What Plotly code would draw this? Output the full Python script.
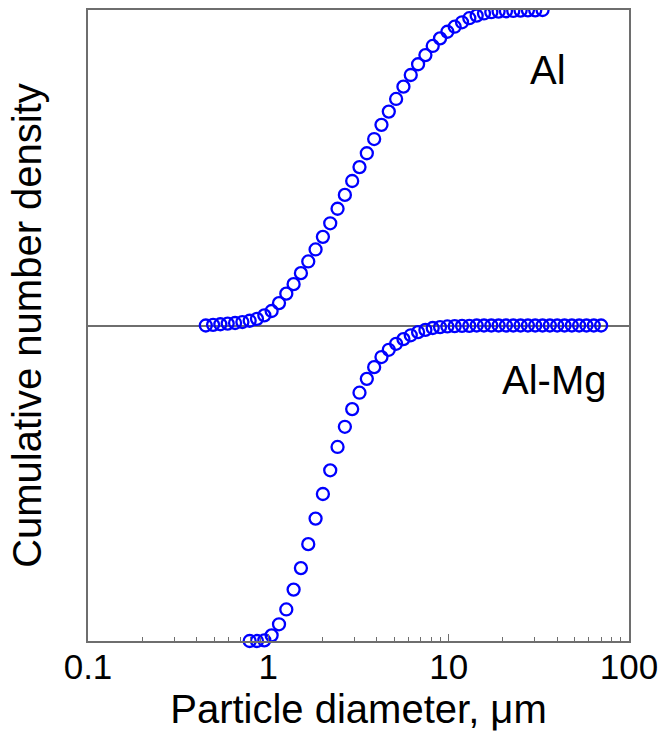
import plotly.graph_objects as go

# ---- data ----
al_diameter = [0.450, 0.494, 0.542, 0.595, 0.654, 0.718, 0.788, 0.865, 0.950, 1.043,
               1.146, 1.258, 1.381, 1.516, 1.665, 1.828, 2.007, 2.204, 2.420, 2.657,
               2.917, 3.203, 3.517, 3.862, 4.240, 4.656, 5.112, 5.613, 6.163, 6.767,
               7.430, 8.158, 8.958, 9.835, 10.80, 11.86, 13.02, 14.30, 15.70, 17.24,
               18.92, 20.78, 22.82, 25.05, 27.51, 30.20, 33.16]
al_cum = [0.000, 0.002, 0.004, 0.006, 0.008, 0.011, 0.015, 0.021, 0.032, 0.046,
          0.071, 0.101, 0.131, 0.166, 0.203, 0.241, 0.281, 0.324, 0.370, 0.414,
          0.458, 0.502, 0.546, 0.591, 0.636, 0.678, 0.718, 0.757, 0.794, 0.828,
          0.857, 0.886, 0.910, 0.931, 0.947, 0.961, 0.974, 0.982, 0.989, 0.993,
          0.995, 0.996, 0.997, 0.998, 0.999, 0.999, 1.000]

almg_diameter = [0.788, 0.865, 0.950, 1.043, 1.146, 1.258, 1.381, 1.516, 1.665, 1.828,
                 2.007, 2.204, 2.420, 2.657, 2.917, 3.203, 3.517, 3.862, 4.240, 4.656,
                 5.112, 5.613, 6.163, 6.767, 7.430, 8.158, 8.958, 9.835, 10.80, 11.86,
                 13.02, 14.30, 15.70, 17.24, 18.92, 20.78, 22.82, 25.05, 27.51, 30.20,
                 33.16, 36.41, 39.98, 43.90, 48.19, 52.92, 58.10, 63.80, 70.05]
almg_cum = [0.000, 0.000, 0.002, 0.018, 0.053, 0.100, 0.163, 0.231, 0.307, 0.388,
            0.466, 0.541, 0.615, 0.679, 0.735, 0.787, 0.831, 0.868, 0.900, 0.923,
            0.942, 0.957, 0.969, 0.979, 0.986, 0.992, 0.995, 0.997, 0.998, 0.999,
            0.999, 1.000, 1.000, 1.000, 1.000, 1.000, 1.000, 1.000, 1.000, 1.000,
            1.000, 1.000, 1.000, 1.000, 1.000, 1.000, 1.000, 1.000, 1.000]

x_tick_vals = [0.1, 1, 10, 100]
x_tick_text = ["0.1", "1", "10", "100"]
labels = ["Al", "Al-Mg"]

FONT = "Liberation Sans, Arial, sans-serif"
FRAME = "#6e6e6e"
BLUE = "#0000ff"

minor_vals = [m * d for d in (0.1, 1, 10) for m in range(2, 10)]

fig = go.Figure()
marker = dict(symbol="circle-open", size=12, color=BLUE, line=dict(width=2.3, color=BLUE))
fig.add_trace(go.Scatter(x=al_diameter, y=al_cum, mode="markers", marker=marker,
                         yaxis="y", cliponaxis=True, showlegend=False))
fig.add_trace(go.Scatter(x=almg_diameter, y=almg_cum, mode="markers", marker=marker,
                         yaxis="y2", cliponaxis=False, showlegend=False))

fig.update_layout(
    width=666, height=740,
    margin=dict(l=88, r=31, t=8, b=99),
    paper_bgcolor="white", plot_bgcolor="white",
    font=dict(family=FONT, color="black"),
    xaxis=dict(type="log", range=[-1, 2],
               tickmode="array", tickvals=x_tick_vals, ticktext=x_tick_text,
               ticks="inside", ticklen=7, tickcolor=FRAME, tickwidth=1,
               minor=dict(tickmode="array", tickvals=minor_vals, ticks="inside",
                          ticklen=4, tickcolor=FRAME, tickwidth=1, showgrid=False),
               showline=True, linecolor=FRAME, linewidth=1.5, mirror=True,
               showgrid=False, zeroline=False,
               tickfont=dict(size=35, family=FONT), ticklabelstandoff=-6,
               title=dict(text="Particle diameter, \u03bcm", font=dict(size=40, family=FONT),
                          standoff=10)),
    yaxis=dict(range=[-1, 1], showticklabels=False, ticks="",
               showline=True, linecolor=FRAME, linewidth=1.5, mirror=True,
               showgrid=False, zeroline=True, zerolinecolor=FRAME, zerolinewidth=1.5,
               title=dict(text="Cumulative number density", font=dict(size=40, family=FONT),
                          standoff=32)),
    yaxis2=dict(range=[0, 2], overlaying="y", showticklabels=False, ticks="",
                showline=False, showgrid=False, zeroline=False, visible=False),
    annotations=[
        dict(text=labels[0], x=0.851, y=0.905, xref="paper", yref="paper",
             showarrow=False, font=dict(size=40, family=FONT), xanchor="center", yanchor="middle"),
        dict(text=labels[1], x=0.862, y=0.413, xref="paper", yref="paper",
             showarrow=False, font=dict(size=40, family=FONT), xanchor="center", yanchor="middle"),
    ],
)

fig.write_html("out.html")
